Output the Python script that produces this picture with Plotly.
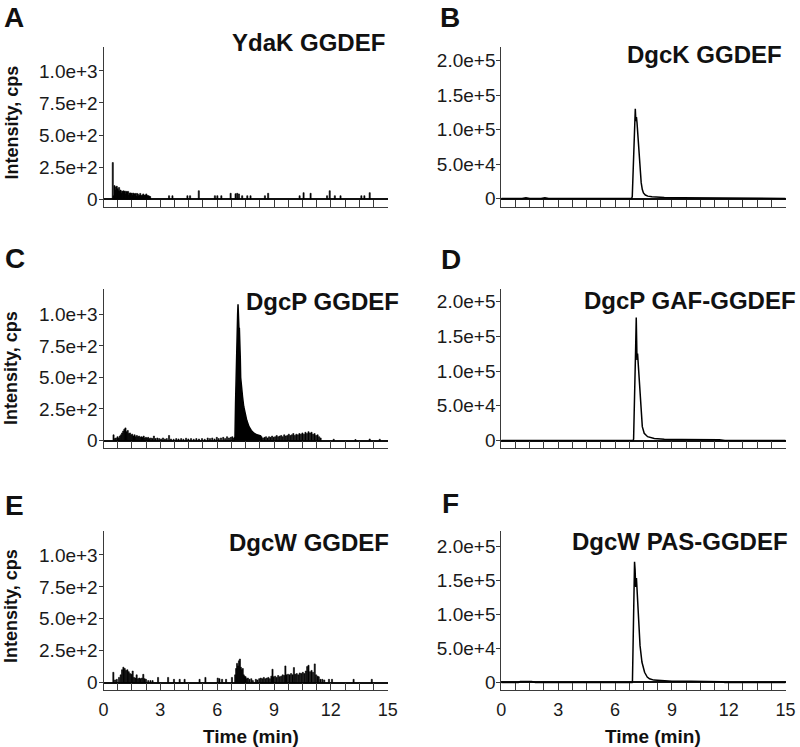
import plotly.graph_objects as go

# ---------------- data ----------------
# Panel A: YdaK GGDEF (noisy, spikes)
ydak_time = [0.49, 0.54, 0.58, 0.62, 0.66, 0.70, 0.74, 0.78, 0.82, 0.86, 0.90, 0.94, 0.98, 1.02, 1.06,
             1.10, 1.14, 1.18, 1.22, 1.26, 1.30, 1.34, 1.38, 1.42, 1.46, 1.50, 1.54, 1.58, 1.62, 1.66,
             1.70, 1.74, 1.78, 1.82, 1.86, 1.90, 1.94, 1.98, 2.02, 2.06, 2.10, 2.14, 2.18, 2.22, 2.26,
             2.30, 2.34, 2.38, 2.42, 2.46,
             3.46, 3.64, 4.43, 4.57, 5.03, 5.88, 6.01, 6.22, 6.71, 6.97, 7.06, 7.15, 7.32, 7.59, 7.76,
             8.52, 8.69, 10.35, 10.56, 10.93, 11.80, 11.94, 12.21, 12.51, 13.61, 13.77, 14.05]
ydak_int = [285, 25, 105, 70, 95, 100, 80, 65, 90, 60, 70, 45, 62, 60, 64,
            58, 62, 40, 60, 55, 60, 30, 46, 48, 44, 46, 28, 46, 42, 38,
            44, 20, 44, 38, 24, 30, 44, 30, 24, 30, 40, 30, 28, 30, 40,
            28, 25, 25, 22, 20,
            26, 26, 26, 26, 65, 26, 26, 26, 45, 42, 45, 40, 26, 26, 26,
            26, 45, 26, 50, 45, 26, 65, 26, 26, 26, 26, 50]

# Panel C: DgcP GGDEF noise + peak
dgcp_noise_time = [0.53, 0.60, 0.66, 0.74, 0.80, 0.86, 0.92, 0.98, 1.04, 1.10, 1.16, 1.22, 1.28, 1.34, 1.40,
                   1.46, 1.52, 1.58, 1.64, 1.70, 1.76, 1.82, 1.88, 1.94, 2.00, 2.06, 2.12, 2.18, 2.24, 2.30,
                   2.36, 2.42, 2.50, 2.58, 2.66, 2.74, 2.84, 2.94, 3.04, 3.14, 3.24, 3.34, 3.46, 3.56, 3.70,
                   3.84, 3.96, 4.10, 4.22, 4.36, 4.48, 4.62, 4.76, 4.90, 5.04, 5.20, 5.34, 5.50, 5.62, 5.74,
                   5.86, 5.98, 6.08, 6.20, 6.32, 6.42, 6.52, 6.62, 6.72, 6.80, 6.88,
                   8.34, 8.42, 8.50, 8.58, 8.66, 8.74, 8.82, 8.90, 8.98, 9.06, 9.14, 9.22, 9.30, 9.38, 9.46,
                   9.54, 9.62, 9.70, 9.78, 9.86, 9.94, 10.02, 10.10, 10.18, 10.26, 10.34, 10.42, 10.50,
                   10.58, 10.66, 10.74, 10.82, 10.90, 10.98, 11.06, 11.14, 11.22, 11.30, 11.38, 11.46,
                   12.15, 13.30, 14.05, 14.58]
dgcp_noise_int = [45, 15, 20, 30, 20, 35, 45, 60, 75, 90, 100, 70, 80, 55, 60,
                  45, 50, 35, 45, 30, 40, 30, 35, 25, 30, 25, 35, 20, 25, 20,
                  25, 15, 20, 15, 35, 15, 20, 15, 12, 20, 12, 15, 40, 12, 10,
                  15, 12, 15, 10, 18, 12, 15, 10, 15, 12, 15, 10, 20, 15, 20,
                  12, 25, 15, 20, 25, 15, 30, 20, 25, 30, 20,
                  30, 20, 25, 30, 20, 30, 25, 35, 25, 30, 40, 30, 35, 40, 30,
                  45, 35, 40, 50, 40, 45, 55, 40, 50, 45, 55, 50, 60,
                  50, 65, 55, 70, 60, 65, 50, 55, 40, 45, 30, 20,
                  10, 8, 12, 10]
dgcp_peak_time = [6.90, 6.94, 6.97, 7.01, 7.05, 7.08, 7.10, 7.12, 7.15, 7.17, 7.20, 7.22, 7.24, 7.28,
                  7.34, 7.40, 7.48, 7.56, 7.68, 7.80, 7.94, 8.10, 8.29, 8.36]
dgcp_peak_int = [0, 30, 300, 700, 900, 1000, 1080, 950, 880, 895, 800, 650, 500, 420,
                 345, 270, 215, 160, 110, 80, 58, 45, 37, 0]

# Panel E: DgcW GGDEF noise
dgcw_time = [0.52, 0.61, 0.70, 0.82, 0.91, 0.98, 1.05, 1.12, 1.19, 1.26, 1.33, 1.40, 1.47, 1.54, 1.61,
             1.68, 1.75, 1.82, 1.89, 1.96, 2.03, 2.10, 2.17, 2.24, 2.36, 2.48, 2.59, 2.88, 3.41, 3.72,
             4.02, 4.28, 5.07, 5.38, 6.03, 6.12, 6.26, 6.47, 6.78,
             6.95, 7.00, 7.05, 7.10, 7.15, 7.20, 7.25, 7.30, 7.35, 7.40, 7.45, 7.50, 7.56, 7.62, 7.70,
             7.80, 7.88, 8.04, 8.12, 8.22, 8.30, 8.38, 8.46, 8.54, 8.62, 8.70, 8.78, 8.86, 8.92, 8.98,
             9.06, 9.14, 9.22, 9.30, 9.38, 9.46, 9.54, 9.60, 9.66, 9.74, 9.82, 9.90, 9.98, 10.05, 10.12,
             10.20, 10.28, 10.36, 10.44, 10.52, 10.60, 10.68, 10.75, 10.82, 10.90, 10.98, 11.06, 11.15,
             11.22, 11.30, 11.36, 11.45, 11.55, 11.65, 11.90, 12.06, 13.20, 14.16]
dgcw_int = [80, 20, 25, 40, 60, 100, 120, 110, 95, 100, 85, 70, 65, 90, 40,
            35, 60, 30, 35, 30, 35, 64, 30, 25, 15, 15, 15, 40, 40, 25,
            25, 25, 25, 40, 35, 30, 25, 25, 40,
            60, 110, 150, 130, 170, 184, 120, 100, 110, 60, 50, 45, 30, 35, 25,
            30, 15, 25, 20, 30, 35, 30, 40, 30, 35, 40, 30, 50, 104, 45,
            50, 40, 55, 45, 50, 60, 55, 130, 60, 65, 60, 70, 60, 117, 65,
            70, 60, 75, 70, 80, 70, 90, 125, 135, 85, 95, 80, 146,
            60, 50, 45, 25, 25, 20, 25, 25, 25, 25]

# Panel B: DgcK GGDEF
dgck_time = [0.0, 1.1, 1.3, 1.5, 2.1, 2.3, 2.5, 6.88, 6.91, 6.96, 7.00, 7.03, 7.07, 7.10, 7.13, 7.16,
             7.21, 7.26, 7.31, 7.38, 7.44, 7.50, 7.60, 7.73, 7.95, 8.17, 8.60, 9.50, 10.50, 11.30,
             11.60, 15.0]
dgck_int = [0, 0, 1200, 0, 0, 1000, 0, 0, 3000, 47000, 95000, 119000, 130000, 112000, 118000, 110000,
            90000, 71000, 47000, 23000, 13000, 8000, 5000, 3400, 2400, 2000, 1500, 1200, 1000, 800,
            0, 0]

# Panel D: DgcP GAF-GGDEF
gaf_time = [0.0, 6.95, 6.98, 7.02, 7.05, 7.09, 7.12, 7.14, 7.16, 7.19, 7.22, 7.28, 7.31, 7.37, 7.44,
            7.54, 7.72, 8.07, 8.60, 9.50, 10.50, 11.50, 11.80, 15.0]
gaf_int = [0, 0, 2000, 39000, 88000, 136000, 177000, 120000, 116000, 125000, 112000, 88000, 63000,
           39000, 20000, 10500, 5600, 3000, 2000, 1600, 1500, 1200, 0, 0]

# Panel F: DgcW PAS-GGDEF
pas_time = [0.0, 0.9, 1.0, 1.6, 1.8, 6.90, 6.92, 6.96, 6.98, 7.00, 7.03, 7.06, 7.09, 7.13, 7.18, 7.22,
            7.27, 7.32, 7.42, 7.56, 7.70, 7.82, 8.05, 8.35, 9.00, 10.00, 11.00, 11.60, 11.80, 15.0]
pas_int = [0, 0, 1500, 1500, 0, 0, 2000, 54000, 103000, 153000, 177000, 165000, 140000, 153000, 128000,
           103000, 79000, 54000, 30000, 15000, 8000, 5400, 3500, 2700, 2000, 1700, 1500, 1200, 0, 0]

panel_letters = ["A", "B", "C", "D", "E", "F"]
panel_titles = ["YdaK GGDEF", "DgcK GGDEF", "DgcP GGDEF", "DgcP GAF-GGDEF", "DgcW GGDEF", "DgcW PAS-GGDEF"]
low_tick_vals = [0, 250, 500, 750, 1000]
low_tick_text = ["0", "2.5e+2", "5.0e+2", "7.5e+2", "1.0e+3"]
high_tick_vals = [0, 50000, 100000, 150000, 200000]
high_tick_text = ["0", "5.0e+4", "1.0e+5", "1.5e+5", "2.0e+5"]
time_tick_vals = [0, 3, 6, 9, 12, 15]
time_tick_text = ["0", "3", "6", "9", "12", "15"]
y_title = "Intensity, cps"
x_title = "Time (min)"

# ---------------- figure ----------------
W, H = 800, 747
FONT = "Liberation Sans, Arial, sans-serif"
BAR_W = 0.06

fig = go.Figure()

def bars(x, y, ax):
    fig.add_trace(go.Bar(x=x, y=y, width=BAR_W, marker=dict(color="black", line=dict(color="black", width=0.6)),
                         xaxis="x" + ax, yaxis="y" + ax, showlegend=False))

def line(x, y, ax, fill=False):
    fig.add_trace(go.Scatter(x=x, y=y, mode="lines", line=dict(color="black", width=1.5),
                             fill="tozeroy" if fill else None, fillcolor="black",
                             xaxis="x" + ax, yaxis="y" + ax, showlegend=False))

bars(ydak_time, ydak_int, "")
line(dgck_time, dgck_int, "2")
bars(dgcp_noise_time, dgcp_noise_int, "3")
line(dgcp_peak_time, dgcp_peak_int, "3", fill=True)
line(gaf_time, gaf_int, "4")
bars(dgcw_time, dgcw_int, "5")
line(pas_time, pas_int, "6")

xl = [103.5 / W, 387.7 / W]
xr = [501.3 / W, 785.6 / W]
rows = [(47, 206.5), (288.5, 448), (531, 690)]
ydoms = [[1 - b / H, 1 - t / H] for (t, b) in rows]
yranges = [[-58, 1187], [-11600, 219600], [-59.5, 1206], [-10700, 218600], [-58.6, 1188], [-11000, 222000]]

layout = dict(width=W, height=H, margin=dict(l=0, r=0, t=0, b=0, autoexpand=False), paper_bgcolor="white",
              plot_bgcolor="white", font=dict(family=FONT, color="#1a1a1a"), barmode="overlay",
              showlegend=False, template="none")
AX = "#3a3a3a"
for i in range(6):
    n = "" if i == 0 else str(i + 1)
    col = i % 2
    row = i // 2
    bottom = row == 2
    layout["xaxis" + n] = dict(domain=xl if col == 0 else xr, anchor="y" + n, range=[0, 15],
                               automargin=False,
                               showgrid=False, zeroline=False, showline=True, linecolor=AX, linewidth=1,
                               ticks="inside", ticklen=7, tickcolor=AX, tickwidth=1,
                               tickvals=time_tick_vals, ticktext=time_tick_text,
                               showticklabels=bottom, tickfont=dict(size=18, family=FONT, color="#1a1a1a"),
                               ticklabelstandoff=3,
                               minor=dict(ticks="inside", ticklen=7, tickcolor=AX, tickwidth=1,
                                          dtick=0.75, tick0=0, showgrid=False),
                               fixedrange=True)
    layout["yaxis" + n] = dict(domain=ydoms[row], anchor="x" + n, range=yranges[i],
                               automargin=False,
                               showgrid=False, zeroline=True, zerolinecolor="#111", zerolinewidth=1.6,
                               showline=True, linecolor=AX, linewidth=1,
                               ticks="outside", ticklen=4, tickcolor=AX, tickwidth=1,
                               tickvals=low_tick_vals if col == 0 else high_tick_vals,
                               ticktext=low_tick_text if col == 0 else high_tick_text,
                               ticklabelstandoff=-3,
                               tickfont=dict(size=19, family=FONT, color="#1a1a1a"), fixedrange=True)
fig.update_layout(**layout)

ann = []
letter_pos = [(14, 18), (450, 18), (15, 258), (451, 259), (14, 505), (450, 503)]
title_pos = [(387, 42), (784, 54), (401, 301), (798, 300), (391, 542), (790, 541)]
for i in range(6):
    lx, ly = letter_pos[i]
    ann.append(dict(x=lx / W, y=1 - ly / H, xref="paper", yref="paper", text="<b>%s</b>" % panel_letters[i],
                    showarrow=False, xanchor="center", yanchor="middle",
                    font=dict(size=28, family=FONT, color="#111")))
    tx, ty = title_pos[i]
    ann.append(dict(x=tx / W, y=1 - ty / H, xref="paper", yref="paper", text="<b>%s</b>" % panel_titles[i],
                    showarrow=False, xanchor="right", yanchor="middle",
                    font=dict(size=24, family=FONT, color="#111")))
for yc in [122.5, 368, 606]:
    ann.append(dict(x=11 / W, y=1 - yc / H, xref="paper", yref="paper", text="<b>%s</b>" % y_title,
                    showarrow=False, textangle=-90, xanchor="center", yanchor="middle",
                    font=dict(size=18, family=FONT, color="#111")))
for xc in [251, 653]:
    ann.append(dict(x=xc / W, y=-2 / H, xref="paper", yref="paper", text="<b>%s</b>" % x_title,
                    showarrow=False, xanchor="center", yanchor="bottom",
                    font=dict(size=19, family=FONT, color="#111")))
fig.update_layout(annotations=ann)

fig.write_html("out.html", config={"displayModeBar": False},
               post_script="document.body.style.margin='0';document.body.style.padding='0';"
                           "document.body.style.overflow='hidden';")
